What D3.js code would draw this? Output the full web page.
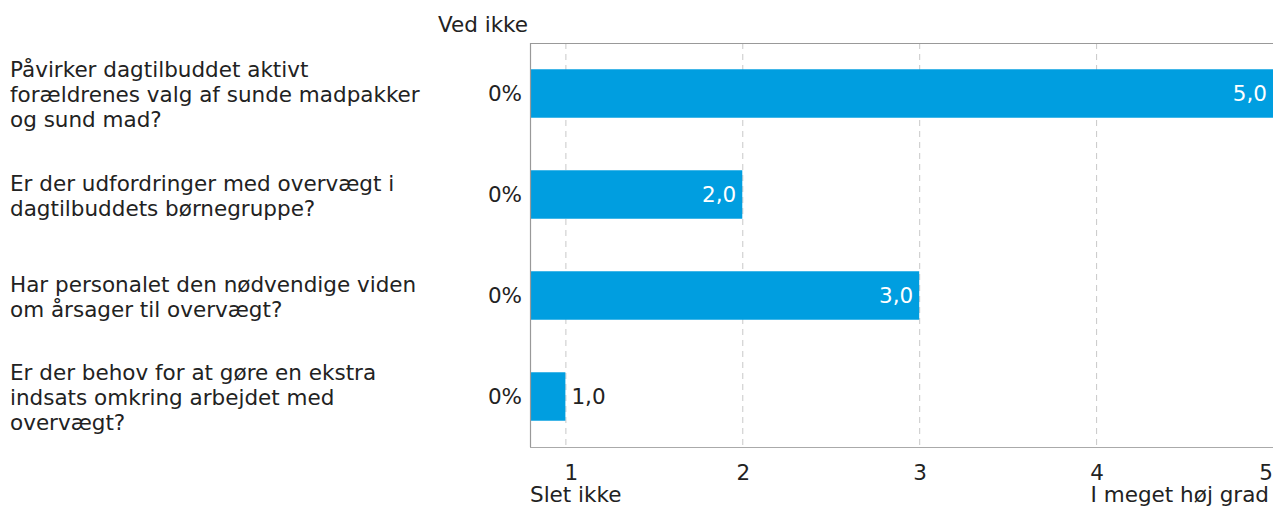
<!DOCTYPE html>
<html><head><meta charset="utf-8">
<script src="https://cdn.jsdelivr.net/npm/d3@7"></script>
<style>body{margin:0;background:#fff}svg{display:block;font-family:"DejaVu Sans",Verdana,sans-serif}</style>
</head><body><svg id="c" width="1273" height="507"></svg>
<script>
const categories = [
  ["Påvirker dagtilbuddet aktivt","forældrenes valg af sunde madpakker","og sund mad?"],
  ["Er der udfordringer med overvægt i","dagtilbuddets børnegruppe?"],
  ["Har personalet den nødvendige viden","om årsager til overvægt?"],
  ["Er der behov for at gøre en ekstra","indsats omkring arbejdet med","overvægt?"]
];
const values = [5.0, 2.0, 3.0, 1.0];
const vedIkke = ["0%","0%","0%","0%"];
const ticks = [1,2,3,4,5];
const tickLabels = ["1","2","3","4","5"];

const svg = d3.select("#c");
const L = 530, R = 1273, T = 43, B = 447;
const fs = 21.5;
const x = d3.scaleLinear().domain([0.8,5]).range([L,R]);
const y = d3.scaleBand().domain(d3.range(categories.length)).range([T,B]).paddingInner(0.52).paddingOuter(0.26);

// grid
svg.append("g").selectAll("line").data(ticks.filter(t=>t<5)).join("line")
  .attr("x1",d=>x(d)+0.5).attr("x2",d=>x(d)+0.5).attr("y1",T).attr("y2",B)
  .attr("stroke","#c8c8c8").attr("stroke-dasharray","6,5");

// bars
svg.append("g").selectAll("rect").data(values).join("rect")
  .attr("x",x(0.8)).attr("y",(d,i)=>y(i)).attr("width",d=>x(d)-x(0.8)).attr("height",y.bandwidth())
  .attr("fill","#009ee0");

// frame
svg.append("path").attr("d",`M${L+0.5},${B}V${T+0.5}H${R}`).attr("fill","none").attr("stroke","#999").attr("stroke-width",1.2);
svg.append("line").attr("x1",L).attr("x2",R).attr("y1",B+0.5).attr("y2",B+0.5).attr("stroke","#aaa").attr("stroke-width",1.2);

// value labels
svg.append("g").selectAll("text").data(values).join("text")
  .attr("y",(d,i)=>y(i)+y.bandwidth()/2).attr("dy","0.36em").attr("font-size",fs)
  .each(function(d){
    const inside = x(d)-x(0.8) > 60;
    d3.select(this).attr("x", inside ? x(d)-6 : x(d)+6)
      .attr("text-anchor", inside ? "end":"start")
      .attr("fill", inside ? "#fff":"#222");
  })
  .text(d=>d.toFixed(1).replace(".",","));

// ved ikke labels
svg.append("g").selectAll("text").data(vedIkke).join("text")
  .attr("x",L-8).attr("y",(d,i)=>y(i)+y.bandwidth()/2).attr("dy","0.36em")
  .attr("text-anchor","end").attr("font-size",fs).attr("fill","#222").text(d=>d);
svg.append("text").attr("x",L-2).attr("y",32).attr("text-anchor","end").attr("font-size",fs).attr("fill","#222").text("Ved ikke");

// category labels
const lh = 25;
categories.forEach((lines,i)=>{
  const cy = y(i)+y.bandwidth()/2 + 1;
  const t = svg.append("text").attr("x",10).attr("font-size",fs).attr("fill","#222");
  lines.forEach((ln,j)=>{
    t.append("tspan").attr("x",10).attr("y",cy + (j-(lines.length-1)/2)*lh).attr("dy","0.36em").text(ln);
  });
});

// x axis ticks
svg.append("g").selectAll("text").data(ticks).join("text")
  .attr("x",(d,i)=> d===5 ? x(d)-7 : d===1 ? x(d)+6 : x(d)+1).attr("y",480).attr("text-anchor","middle")
  .attr("font-size",fs).attr("fill","#222").text((d,i)=>tickLabels[i]);
svg.append("text").attr("x",L).attr("y",502).attr("font-size",fs).attr("fill","#222").text("Slet ikke");
svg.append("text").attr("x",R-4).attr("y",502).attr("text-anchor","end").attr("font-size",fs).attr("fill","#222").text("I meget høj grad");
</script></body></html>
